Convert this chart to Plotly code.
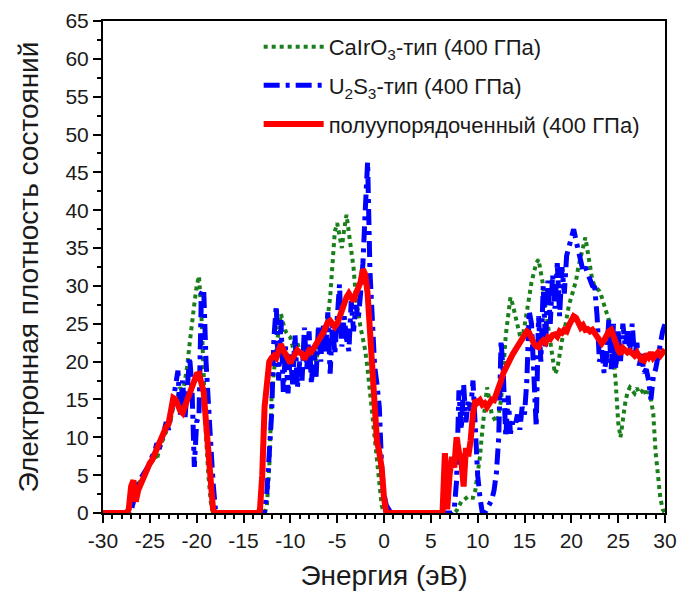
import plotly.graph_objects as go

# Energy grid (eV), step 0.25 from -30 to 30
energy = [round(-30 + 0.25 * i, 2) for i in range(241)]

dos_cairo3 = (
    [0] * 12 + [0.5, 1.8, 3.0, 3.8, 4.3, 4.6, 5.2, 5.8]
    + [6.3, 6.8, 7.5, 7.0, 8.5, 9.2, 10.0, 10.8, 11.5, 12.5, 14.0, 14.8, 15.5, 16.6, 15.8, 17.5, 19.5, 22.4, 25.5, 27.6]
    + [30.0, 31.3, 26.5, 17.0, 10.0, 5.0, 1.5, 0] + [0] * 12
    + [0] * 10 + [1.0, 6.0, 15.3, 19.5, 22.0, 24.0, 26.3, 25.0, 24.0, 23.5]
    + [23.2, 22.0, 21.5, 22.5, 21.4, 20.5, 21.0, 22.0, 21.0, 20.5, 21.5, 20.0, 21.8, 22.5, 23.0, 24.5, 26.0, 28.5, 33.0, 37.2]
    + [38.3, 36.5, 35.0, 37.5, 39.4, 37.0, 34.5, 32.4, 28.5, 26.0, 24.5, 23.0, 21.4, 19.0, 16.0, 12.5, 9.0, 6.0, 3.0, 1.0]
    + [0] * 20
    + [0] * 11 + [0.3, 1.0, 1.5, 1.7, 2.0, 2.2, 2.0, 2.0, 3.0]
    + [5.0, 7.5, 11.0, 14.0, 16.6, 15.0, 13.0, 12.5, 12.0, 13.0, 15.0, 19.0, 23.5, 26.0, 28.5, 27.5, 26.0, 24.5, 23.5, 22.8]
    + [24.5, 26.5, 28.5, 30.5, 32.0, 33.0, 33.5, 32.0, 30.0, 27.0, 25.0, 23.0, 21.0, 18.4, 19.0, 21.0, 22.8, 24.0, 26.0, 27.5]
    + [28.5, 29.5, 30.7, 32.5, 34.0, 35.5, 36.4, 34.5, 32.5, 30.7, 30.0, 29.6, 29.3, 28.5, 27.5, 26.9, 25.5, 23.0, 21.0, 17.0]
    + [12.0, 10.0, 12.5, 14.5, 16.0, 16.6, 16.2, 15.8, 16.5, 15.8, 16.0, 16.5, 15.5, 16.0, 15.0, 13.1, 8.0, 5.3, 2.0, 0.5]
    + [0]
)

dos_u2s3 = (
    [0] * 12 + [0.3, 1.5, 3.0, 3.8, 4.5, 5.0, 5.5, 6.0]
    + [6.5, 7.5, 8.0, 9.2, 8.5, 9.5, 10.5, 12.0, 11.0, 13.0, 14.5, 17.0, 18.8, 13.0, 17.5, 12.5, 17.0, 20.6, 16.5, 6.1]
    + [12.0, 13.0, 29.0, 29.6, 20.0, 13.0, 9.2, 4.0, 0.5] + [0] * 11
    + [0] * 10 + [2.8, 8.0, 13.0, 23.2, 27.4, 17.5, 25.5, 16.0, 22.0, 15.8]
    + [21.0, 17.0, 23.5, 16.5, 20.0, 17.5, 24.5, 19.0, 24.0, 17.0, 22.0, 18.0, 24.8, 20.0, 25.0, 21.0, 26.5, 18.4, 25.0, 21.0]
    + [27.0, 30.2, 22.0, 26.0, 23.0, 21.4, 28.0, 24.0, 27.5, 25.6, 29.0, 33.0, 40.0, 46.4, 32.0, 25.6, 19.4, 17.0, 14.0, 6.0]
    + [2.5, 1.0, 0.3] + [0] * 17
    + [0] * 10 + [0.5, 4.3, 16.2, 11.0, 17.0, 12.0, 15.0, 13.5, 17.5, 10.0]
    + [5.0, 2.0, 0, 0, 0.5, 1.0, 1.7, 3.0, 5.3, 10.0, 22.8, 18.0, 10.0, 15.5, 10.5, 12.0, 11.5, 13.0, 11.0, 14.0]
    + [13.0, 17.5, 26.7, 25.0, 16.0, 11.4, 26.0, 20.0, 30.0, 22.0, 30.7, 25.0, 31.5, 27.0, 33.0, 26.0, 32.5, 29.0, 34.0, 35.0]
    + [36.0, 37.5, 36.0, 34.5, 33.0, 32.0, 32.5, 31.5, 30.5, 30.0, 29.8, 26.0, 20.0, 21.5, 18.5, 20.5, 25.5, 19.0, 25.0, 19.0]
    + [24.0, 20.0, 25.0, 22.0, 24.0, 21.5, 25.0, 20.5, 22.5, 19.5, 21.0, 18.5, 19.0, 17.5, 15.0, 18.0, 19.0, 21.0, 23.0, 24.0]
    + [25.0]
)

dos_semi = (
    [0] * 11 + [0.5, 3.5, 4.3, 1.5, 3.0, 3.8, 4.5, 5.2, 6.0]
    + [6.6, 7.0, 7.8, 8.5, 9.4, 10.0, 10.5, 11.4, 11.8, 14.0, 15.2, 15.0, 14.2, 13.5, 13.2, 14.5, 15.0, 15.8, 16.8, 17.5]
    + [18.3, 18.4, 17.5, 16.0, 12.0, 8.0, 4.0, 0.5] + [0] * 12
    + [0] * 7 + [0.3, 5.0, 14.0, 17.5, 20.0, 20.5, 20.8, 20.5, 21.5, 22.3, 21.5, 20.8, 20.2]
    + [19.8, 20.5, 21.2, 21.5, 21.2, 21.0, 20.3, 21.0, 21.5, 21.3, 21.8, 22.0, 22.5, 23.0, 23.8, 24.5, 25.2, 25.4, 25.0, 24.6]
    + [25.0, 26.0, 27.0, 27.8, 28.5, 29.0, 28.3, 28.0, 29.0, 30.0, 30.5, 32.2, 31.5, 29.0, 24.0, 19.5, 14.0, 9.5, 8.0, 6.0]
    + [2.0] + [0] * 19
    + [0] * 6 + [7.9, 0.5, 5.0, 7.4, 6.0, 10.0, 8.0, 7.0, 3.5, 8.6, 7.5, 9.6, 13.1, 14.9]
    + [14.6, 14.9, 14.3, 14.5, 14.0, 14.6, 15.0, 14.9, 16.0, 17.0, 17.5, 18.5, 19.3, 20.0, 20.4, 21.0, 21.5, 22.0, 22.3, 23.0]
    + [23.6, 24.0, 23.8, 23.0, 22.4, 22.0, 21.9, 22.5, 22.8, 22.5, 23.2, 23.0, 23.5, 23.6, 23.3, 24.0, 23.8, 24.2, 24.0, 24.8]
    + [25.3, 26.0, 25.8, 25.0, 24.5, 24.8, 24.2, 24.3, 24.0, 24.2, 23.8, 23.5, 23.0, 22.4, 22.8, 23.5, 24.0, 24.2, 23.5, 22.5]
    + [21.5, 21.0, 21.8, 21.5, 21.2, 21.4, 21.0, 20.8, 21.2, 20.5, 20.2, 20.1, 21.0, 20.6, 21.2, 20.5, 21.0, 21.2, 20.8, 21.4]
    + [21.6]
)

series_names = [
    "CaIrO<sub>3</sub>-тип (400 ГПа)",
    "U<sub>2</sub>S<sub>3</sub>-тип (400 ГПа)",
    "полуупорядоченный (400 ГПа)",
]

x_ticks = [-30, -25, -20, -15, -10, -5, 0, 5, 10, 15, 20, 25, 30]
x_ticktext = ["-30", "-25", "-20", "-15", "-10", "-5", "0", "5", "10", "15", "20", "25", "30"]
y_ticks = [0, 5, 10, 15, 20, 25, 30, 35, 40, 45, 50, 55, 60, 65]

FONT = "Liberation Sans, Arial, sans-serif"
TXT = "#1a1a1a"

fig = go.Figure()
fig.add_trace(go.Scatter(x=energy, y=dos_cairo3, mode="lines", name=series_names[0], legendgroup="a",
                         line=dict(color="#1a7f1a", width=4, dash="4px,4px")))
fig.add_trace(go.Scatter(x=energy, y=dos_u2s3, mode="lines", name=series_names[1], legendgroup="b",
                         line=dict(color="#0000ff", width=5, dash="16px,6px,4px,6px")))
fig.add_trace(go.Scatter(x=energy, y=dos_semi, mode="lines", name=series_names[2], legendgroup="c",
                         line=dict(color="#ff0000", width=6)))

fig.update_layout(
    width=679, height=597,
    margin=dict(l=103, r=14, t=21, b=84),
    paper_bgcolor="white", plot_bgcolor="white",
    font=dict(family=FONT, color=TXT, size=20),
    showlegend=True,
    legend=dict(x=0.277, y=0.99, xanchor="left", yanchor="top",
                bgcolor="rgba(255,255,255,0)", font=dict(size=22, family=FONT, color=TXT),
                traceorder="grouped", tracegroupgap=7, itemwidth=60),
)
fig.update_xaxes(
    range=[-30, 30], tickvals=x_ticks, ticktext=x_ticktext, automargin=False,
    showline=True, linecolor="black", linewidth=2, mirror=True,
    ticks="outside", ticklen=8, tickwidth=2, tickcolor="black",
    minor=dict(dtick=1, ticks="outside", ticklen=4, tickwidth=1.5, tickcolor="black"),
    showgrid=False, zeroline=False,
    tickfont=dict(size=21, family=FONT, color=TXT),
    title=dict(text="Энергия (эВ)", font=dict(size=28, family=FONT, color=TXT), standoff=14),
)
fig.update_yaxes(
    range=[0, 65], tickvals=y_ticks, automargin=False,
    showline=True, linecolor="black", linewidth=2, mirror=True,
    ticks="outside", ticklen=8, tickwidth=2, tickcolor="black",
    minor=dict(dtick=2.5, tick0=0, ticks="outside", ticklen=4, tickwidth=1.5, tickcolor="black"),
    showgrid=False, zeroline=False,
    tickfont=dict(size=21, family=FONT, color=TXT),
    title=dict(text="Электронная плотность состояний", font=dict(size=28, family=FONT, color=TXT), standoff=19),
)

fig.write_html("out.html")
